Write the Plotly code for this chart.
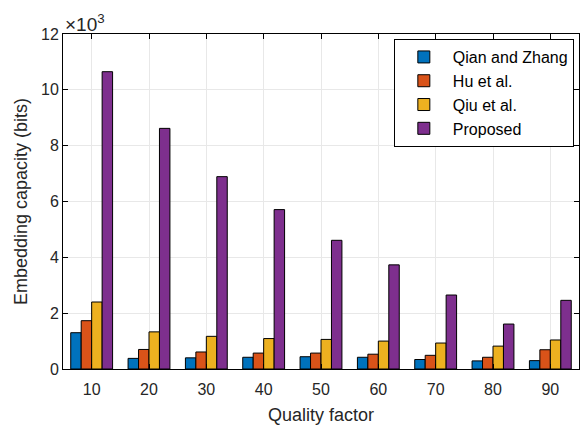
import plotly.graph_objects as go

categories = ["10", "20", "30", "40", "50", "60", "70", "80", "90"]
qian_zhang = [1300, 380, 400, 420, 440, 420, 340, 290, 300]
hu_et_al = [1730, 700, 610, 570, 570, 530, 490, 420, 690]
qiu_et_al = [2400, 1330, 1170, 1090, 1060, 1000, 930, 820, 1040]
proposed = [10650, 8620, 6890, 5710, 4610, 3730, 2650, 1610, 2460]

series = [
    ("Qian and Zhang", qian_zhang, "#0072BD"),
    ("Hu et al.", hu_et_al, "#D95319"),
    ("Qiu et al.", qiu_et_al, "#EDB120"),
    ("Proposed", proposed, "#7E2F8E"),
]

y_ticks = [0, 2000, 4000, 6000, 8000, 10000, 12000]
y_tick_labels = ["0", "2", "4", "6", "8", "10", "12"]

fig = go.Figure()
for name, vals, color in series:
    fig.add_trace(go.Bar(
        x=categories, y=vals, name=name,
        marker=dict(color=color, line=dict(color="black", width=1)),
    ))

font = "Liberation Sans, Arial, Helvetica, sans-serif"
fig.update_layout(
    width=584, height=425,
    margin=dict(l=63, r=5, t=34, b=56),
    barmode="group", bargap=0.27, bargroupgap=0,
    plot_bgcolor="white", paper_bgcolor="white",
    font=dict(family=font, size=16, color="#262626"),
    showlegend=True,
    legend=dict(
        x=0.99, y=0.985, xanchor="right", yanchor="top",
        bgcolor="white", bordercolor="black", borderwidth=1,
        font=dict(size=16, color="black"),
        tracegroupgap=0, itemwidth=48,
    ),
    xaxis=dict(
        title=dict(text="Quality factor", font=dict(size=18), standoff=12),
        showline=True, linecolor="black", linewidth=1, mirror="ticks",
        ticks="inside", ticklen=5, tickcolor="black",
        showgrid=True, gridcolor="#e8e8e8",
        tickfont=dict(size=16), ticklabelstandoff=6,
        automargin=False,
    ),
    yaxis=dict(
        title=dict(text="Embedding capacity (bits)", font=dict(size=18), standoff=8),
        range=[0, 12000],
        tickvals=y_ticks, ticktext=y_tick_labels,
        showline=True, linecolor="black", linewidth=1, mirror="ticks",
        ticks="inside", ticklen=5, tickcolor="black",
        showgrid=True, gridcolor="#e8e8e8",
        zeroline=False,
        tickfont=dict(size=16),
        automargin=False,
    ),
    annotations=[dict(
        text="×10<sup>3</sup>", xref="paper", yref="paper",
        x=0.0, y=1.0, xanchor="left", yanchor="bottom",
        showarrow=False, font=dict(size=19, color="#262626"), yshift=-3,
    )],
)

fig.write_html("out.html", config={"displayModeBar": False},
               post_script="document.body.style.margin='0';")
